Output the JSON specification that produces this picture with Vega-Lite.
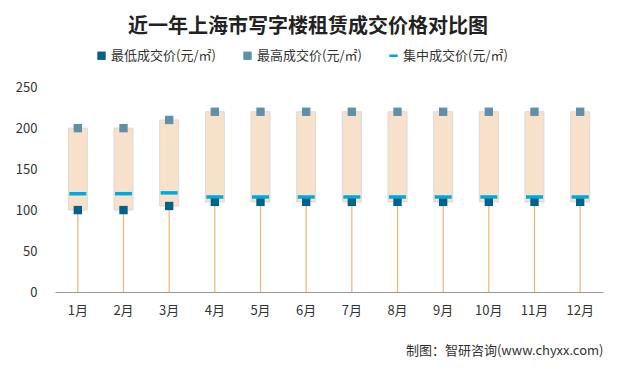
{
  "$schema": "https://vega.github.io/schema/vega-lite/v6.json",
  "autosize": "none",
  "width": 548,
  "height": 213,
  "padding": {"left": 55, "top": 79, "right": 14, "bottom": 77},
  "background": "white",
  "config": {
    "font": "Noto Sans CJK SC",
    "view": {"stroke": null}
  },
  "title": {
    "text": "近一年上海市写字楼租赁成交价格对比图",
    "font": "Noto Sans CJK SC",
    "fontSize": 20,
    "fontWeight": "bold",
    "color": "#222222",
    "anchor": "middle",
    "dx": -21,
    "offset": 12
  },
  "datasets": {
    "wide": [
      {"month": "1月", "low": 100, "high": 200, "mid": 120},
      {"month": "2月", "low": 100, "high": 200, "mid": 120},
      {"month": "3月", "low": 105, "high": 210, "mid": 121},
      {"month": "4月", "low": 110, "high": 220, "mid": 116},
      {"month": "5月", "low": 110, "high": 220, "mid": 116},
      {"month": "6月", "low": 110, "high": 220, "mid": 116},
      {"month": "7月", "low": 110, "high": 220, "mid": 116},
      {"month": "8月", "low": 110, "high": 220, "mid": 116},
      {"month": "9月", "low": 110, "high": 220, "mid": 116},
      {"month": "10月", "low": 110, "high": 220, "mid": 116},
      {"month": "11月", "low": 110, "high": 220, "mid": 116},
      {"month": "12月", "low": 110, "high": 220, "mid": 116}
    ],
    "long": [
      {"month": "1月", "series": "最低成交价(元/㎡)", "value": 100},
      {"month": "2月", "series": "最低成交价(元/㎡)", "value": 100},
      {"month": "3月", "series": "最低成交价(元/㎡)", "value": 105},
      {"month": "4月", "series": "最低成交价(元/㎡)", "value": 110},
      {"month": "5月", "series": "最低成交价(元/㎡)", "value": 110},
      {"month": "6月", "series": "最低成交价(元/㎡)", "value": 110},
      {"month": "7月", "series": "最低成交价(元/㎡)", "value": 110},
      {"month": "8月", "series": "最低成交价(元/㎡)", "value": 110},
      {"month": "9月", "series": "最低成交价(元/㎡)", "value": 110},
      {"month": "10月", "series": "最低成交价(元/㎡)", "value": 110},
      {"month": "11月", "series": "最低成交价(元/㎡)", "value": 110},
      {"month": "12月", "series": "最低成交价(元/㎡)", "value": 110},
      {"month": "1月", "series": "最高成交价(元/㎡)", "value": 200},
      {"month": "2月", "series": "最高成交价(元/㎡)", "value": 200},
      {"month": "3月", "series": "最高成交价(元/㎡)", "value": 210},
      {"month": "4月", "series": "最高成交价(元/㎡)", "value": 220},
      {"month": "5月", "series": "最高成交价(元/㎡)", "value": 220},
      {"month": "6月", "series": "最高成交价(元/㎡)", "value": 220},
      {"month": "7月", "series": "最高成交价(元/㎡)", "value": 220},
      {"month": "8月", "series": "最高成交价(元/㎡)", "value": 220},
      {"month": "9月", "series": "最高成交价(元/㎡)", "value": 220},
      {"month": "10月", "series": "最高成交价(元/㎡)", "value": 220},
      {"month": "11月", "series": "最高成交价(元/㎡)", "value": 220},
      {"month": "12月", "series": "最高成交价(元/㎡)", "value": 220}
    ]
  },
  "layer": [
    {
      "data": {"name": "wide"},
      "mark": {"type": "rule", "color": "#F2B27A", "strokeWidth": 1.2},
      "encoding": {
        "x": {
          "field": "month",
          "type": "nominal",
          "sort": null,
          "scale": {"paddingInner": 0, "paddingOuter": 0},
          "axis": {
            "title": "制图：智研咨询(www.chyxx.com)",
            "titleAnchor": "end",
            "titleAlign": "right",
            "titleFontSize": 13,
            "titleFontWeight": "normal",
            "titleColor": "#333333",
            "titlePadding": 27,
            "labelAngle": 0,
            "labelFontSize": 13,
            "labelColor": "#333333",
            "labelPadding": 12,
            "ticks": false,
            "domainColor": "#999999",
            "grid": false
          }
        },
        "y": {
          "field": "low",
          "type": "quantitative",
          "scale": {"domain": [0, 250]},
          "axis": {
            "title": null,
            "values": [0, 50, 100, 150, 200, 250],
            "labelFontSize": 13,
            "labelColor": "#333333",
            "labelPadding": 18,
            "ticks": false,
            "domain": false,
            "grid": false
          }
        },
        "y2": {"datum": 0}
      }
    },
    {
      "data": {"name": "wide"},
      "mark": {"type": "bar", "size": 19, "color": "#F8E1CB", "stroke": "#D9D9D9", "strokeWidth": 1},
      "encoding": {
        "x": {"field": "month", "type": "nominal", "sort": null},
        "y": {"field": "low", "type": "quantitative"},
        "y2": {"field": "high"}
      }
    },
    {
      "data": {"name": "long"},
      "mark": {"type": "point", "filled": true, "opacity": 1, "size": 70},
      "encoding": {
        "x": {"field": "month", "type": "nominal", "sort": null},
        "y": {"field": "value", "type": "quantitative"},
        "color": {
          "field": "series",
          "type": "nominal",
          "scale": {
            "domain": ["最低成交价(元/㎡)", "最高成交价(元/㎡)", "集中成交价(元/㎡)"],
            "range": ["#00628A", "#5E90AA", "#00A8E0"]
          },
          "legend": {
            "title": null,
            "orient": "none",
            "direction": "horizontal",
            "legendX": 40,
            "legendY": -30,
            "labelFontSize": 13,
            "labelColor": "#333333",
            "columnPadding": 25,
            "symbolSize": 70,
            "labelOffset": 3
          }
        },
        "shape": {
          "field": "series",
          "type": "nominal",
          "scale": {
            "domain": ["最低成交价(元/㎡)", "最高成交价(元/㎡)", "集中成交价(元/㎡)"],
            "range": ["square", "square", "M-1,-0.3H1V0.3H-1Z"]
          },
          "legend": {
            "title": null,
            "orient": "none",
            "direction": "horizontal",
            "legendX": 40,
            "legendY": -30,
            "labelFontSize": 13,
            "labelColor": "#333333",
            "columnPadding": 25,
            "symbolSize": 70,
            "labelOffset": 3
          }
        }
      }
    },
    {
      "data": {"name": "wide"},
      "mark": {"type": "tick", "color": "#00A8E0", "size": 17, "thickness": 3.5, "opacity": 1},
      "encoding": {
        "x": {"field": "month", "type": "nominal", "sort": null},
        "y": {"field": "mid", "type": "quantitative"}
      }
    }
  ]
}
